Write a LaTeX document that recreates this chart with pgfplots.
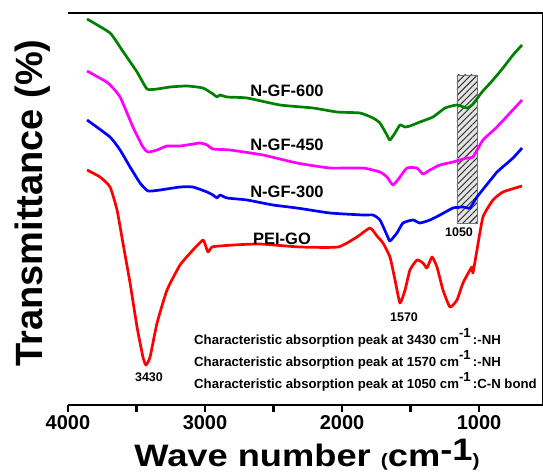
\documentclass[border=0pt]{standalone}
\usepackage{fontspec}
\setmainfont{Liberation Sans}
\usepackage{graphicx}
\usepackage{pgfplots}
\pgfplotsset{compat=1.18}
\usetikzlibrary{patterns.meta}
\definecolor{cgreen}{RGB}{0,128,0}
\definecolor{cmag}{RGB}{255,0,255}
\definecolor{cblue}{RGB}{0,0,255}
\definecolor{cred}{RGB}{255,0,0}
\newcommand\fs[1]{\fontsize{#1}{#1}\selectfont\bfseries}
\begin{document}
\begin{tikzpicture}
\begin{axis}[
 at={(0pt,0pt)}, anchor=south west,
 scale only axis, width=475pt, height=392pt,
 x dir=reverse, xmin=533, xmax=4000, ymin=0, ymax=392,
 axis x line*=box, axis y line*=right,
 axis line style={line width=2.5pt, black},
 xtick={1000,2000,3000,4000}, minor xtick={1500,2500,3500},
 ytick=\empty,
 xtick pos=left, tick align=outside,
 major tick length=7pt, minor tick length=7pt,
 tick style={line width=2.5pt, black},
 /pgf/number format/1000 sep={},
 /pgf/number format/assume math mode=true,
 xticklabel style={font=\fs{20}},
 clip=false,
]
\addplot[draw=black!55, line width=0.8pt, fill=gray!22,
  postaction={pattern={Lines[angle=45,distance=4.5pt,line width=0.9pt]}, pattern color=black!85}]
  coordinates {(1161,182) (1015,182) (1015,330) (1161,330)} -- cycle;

\addplot[color=cgreen, line width=2.7pt, smooth, tension=0.3, line join=round] coordinates {
(3861,386) (3693,372) (3606,355) (3496,333) (3423,316) (3350,316) (3255,318) (3131,319) (3015,317) (2942,311) (2912,308) (2891,310) (2839,308) (2693,307) (2453,300) (2212,297) (2037,293) (1869,292) (1774,287) (1723,282) (1672,270) (1650,265) (1613,272) (1577,280) (1540,278) (1504,279) (1431,283) (1336,288) (1248,297) (1161,300) (1088,297) (1044,301) (978,313) (898,325) (825,337) (752,350) (686,360)};

\addplot[color=cmag, line width=2.7pt, smooth, tension=0.3, line join=round] coordinates {
(3861,334) (3708,322) (3620,308) (3526,278) (3453,258) (3416,253) (3350,255) (3277,259) (3182,259) (3036,262) (2985,260) (2942,256) (2818,255) (2577,250) (2329,242) (2088,237) (1847,237) (1723,233) (1672,228) (1628,220) (1577,228) (1526,237) (1453,237) (1409,231) (1358,235) (1285,240) (1190,243) (1088,247) (1044,248) (971,265) (869,278) (686,305)};

\addplot[color=cblue, line width=2.7pt, smooth, tension=0.3, line join=round] coordinates {
(3861,285) (3693,268) (3620,255) (3547,238) (3474,222) (3416,214) (3328,215) (3182,218) (3088,218) (2985,213) (2942,210) (2912,207) (2891,210) (2839,207) (2693,205) (2504,200) (2329,197) (2088,192) (1847,190) (1774,190) (1723,185) (1672,170) (1650,164) (1599,172) (1555,182) (1482,185) (1431,182) (1358,185) (1285,190) (1190,197) (1117,198) (1066,197) (1015,208) (898,228) (869,233) (752,247) (686,257)};

\addplot[color=cred, line width=2.7pt, smooth, tension=0.3, line join=round] coordinates {
(3861,235) (3766,228) (3693,218) (3642,195) (3599,162) (3547,122) (3496,78) (3453,48) (3431,40) (3401,48) (3350,82) (3277,115) (3182,140) (3088,155) (3015,165) (3000,161) (2978,153) (2949,158) (2891,159) (2796,160) (2599,161) (2307,158) (2029,158) (1891,168) (1796,177) (1745,169) (1701,162) (1650,148) (1613,125) (1577,102) (1540,115) (1504,135) (1453,145) (1409,142) (1380,137) (1343,148) (1307,138) (1263,115) (1212,98) (1161,105) (1117,122) (1066,135) (1051,138) (1044,132) (1015,155) (971,188) (898,205) (825,213) (686,219)};
\end{axis}

\node[anchor=base, inner sep=0] at (239pt,-62pt) {\scalebox{1.17}[1]{\fs{31}Wave number {\fs{18}(}cm\raisebox{6pt}{-1}{\fs{18})}}};
\node[rotate=90, anchor=base, inner sep=0] at (-25pt,202pt) {\fs{38}Transmittance (\%)};

\node[inner sep=0] at (219pt,314pt) {\fs{16.5}N-GF-600};
\node[inner sep=0] at (219pt,260pt) {\fs{16.5}N-GF-450};
\node[inner sep=0] at (219pt,213pt) {\fs{16.5}N-GF-300};
\node[inner sep=0] at (214pt,166pt) {\fs{16.5}PEI-GO};

\node[inner sep=0] at (81pt,28pt) {\fs{12.5}3430};
\node[inner sep=0] at (336pt,88pt) {\fs{12.5}1570};
\node[inner sep=0] at (391pt,173pt) {\fs{12.5}1050};

\node[anchor=base west, inner sep=0] at (126pt,60pt) {\fs{13.2}Characteristic absorption peak at 3430 cm\raisebox{0.6em}{-1}\,:-NH};
\node[anchor=base west, inner sep=0] at (126pt,38pt) {\fs{13.2}Characteristic absorption peak at 1570 cm\raisebox{0.6em}{-1}\,:-NH};
\node[anchor=base west, inner sep=0] at (126pt,16pt) {\fs{13.2}Characteristic absorption peak at 1050 cm\raisebox{0.6em}{-1}\,:C-N bond};

\pgfresetboundingbox
\path[use as bounding box] (-68pt,-71pt) rectangle (475pt,405pt);
\end{tikzpicture}
\end{document}
